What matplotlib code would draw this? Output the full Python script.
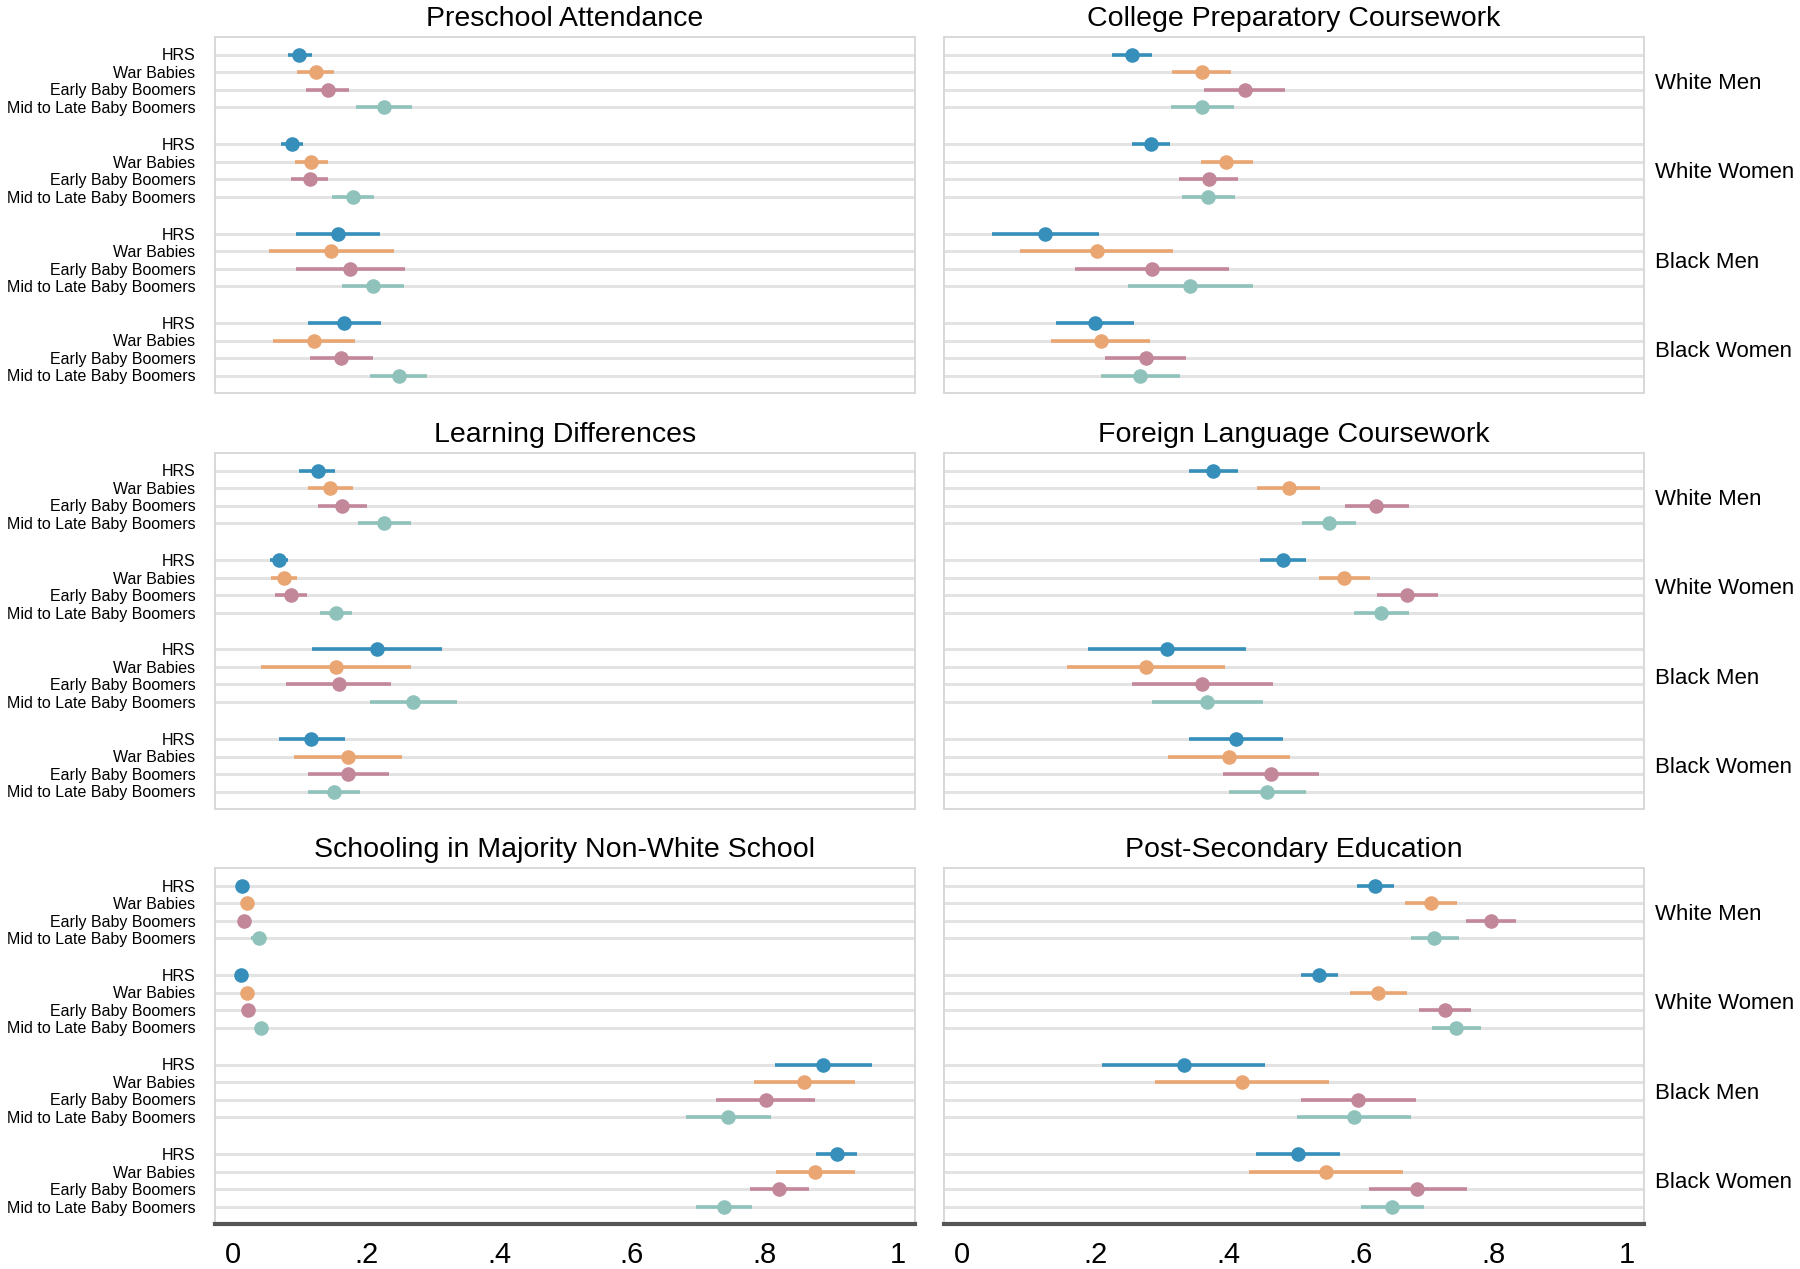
import matplotlib.pyplot as plt
import numpy as np

plt.rcParams['font.family'] = ['Liberation Sans', 'DejaVu Sans']

cohorts = ["HRS", "War Babies", "Early Baby Boomers", "Mid to Late Baby Boomers"]
groups = ["White Men", "White Women", "Black Men", "Black Women"]
colors = ["#368fba", "#e9a673", "#c3879a", "#8fc2bb"]

xticks = [0, 0.2, 0.4, 0.6, 0.8, 1]
xticklabels = ["0", ".2", ".4", ".6", ".8", "1"]

# rows = groups (WM, WW, BM, BW), columns = cohorts
preschool_est = [[0.099, 0.124, 0.142, 0.227], [0.088, 0.117, 0.115, 0.180],
                 [0.157, 0.147, 0.176, 0.210], [0.167, 0.121, 0.162, 0.250]]
preschool_lo = [[0.082, 0.096, 0.110, 0.185], [0.071, 0.093, 0.087, 0.148],
                [0.094, 0.053, 0.095, 0.163], [0.112, 0.060, 0.115, 0.206]]
preschool_hi = [[0.118, 0.151, 0.174, 0.269], [0.105, 0.142, 0.143, 0.212],
                [0.220, 0.242, 0.258, 0.257], [0.223, 0.183, 0.210, 0.292]]

college_est = [[0.255, 0.360, 0.425, 0.361], [0.284, 0.397, 0.371, 0.370],
               [0.124, 0.202, 0.285, 0.343], [0.199, 0.208, 0.276, 0.268]]
college_lo = [[0.225, 0.316, 0.363, 0.314], [0.256, 0.359, 0.326, 0.331],
              [0.045, 0.087, 0.170, 0.249], [0.141, 0.133, 0.215, 0.208]]
college_hi = [[0.286, 0.404, 0.486, 0.409], [0.313, 0.437, 0.415, 0.410],
              [0.205, 0.317, 0.401, 0.437], [0.258, 0.283, 0.336, 0.328]]

learning_est = [[0.127, 0.146, 0.164, 0.227], [0.069, 0.076, 0.087, 0.154],
                [0.216, 0.154, 0.159, 0.271], [0.117, 0.173, 0.173, 0.151]]
learning_lo = [[0.099, 0.113, 0.127, 0.187], [0.055, 0.056, 0.063, 0.130],
               [0.119, 0.042, 0.079, 0.205], [0.068, 0.091, 0.113, 0.112]]
learning_hi = [[0.153, 0.180, 0.201, 0.267], [0.083, 0.096, 0.111, 0.179],
               [0.314, 0.268, 0.238, 0.336], [0.168, 0.254, 0.234, 0.190]]

foreign_est = [[0.378, 0.491, 0.623, 0.552], [0.483, 0.575, 0.669, 0.630],
               [0.308, 0.276, 0.360, 0.369], [0.412, 0.401, 0.464, 0.459]]
foreign_lo = [[0.341, 0.444, 0.576, 0.511], [0.448, 0.537, 0.624, 0.589],
              [0.189, 0.158, 0.255, 0.285], [0.341, 0.310, 0.392, 0.401]]
foreign_hi = [[0.415, 0.539, 0.672, 0.593], [0.517, 0.614, 0.716, 0.673],
              [0.427, 0.395, 0.467, 0.453], [0.483, 0.493, 0.537, 0.517]]

nonwhite_est = [[0.013, 0.020, 0.016, 0.038], [0.012, 0.020, 0.022, 0.042],
                [0.888, 0.859, 0.801, 0.745], [0.908, 0.876, 0.822, 0.738]]
nonwhite_lo = [[0.008, 0.015, 0.011, 0.027], [0.007, 0.015, 0.017, 0.035],
               [0.815, 0.783, 0.727, 0.681], [0.877, 0.817, 0.778, 0.696]]
nonwhite_hi = [[0.018, 0.025, 0.021, 0.049], [0.017, 0.025, 0.027, 0.049],
               [0.961, 0.935, 0.875, 0.810], [0.939, 0.936, 0.866, 0.780]]

postsec_est = [[0.621, 0.705, 0.796, 0.710], [0.537, 0.626, 0.726, 0.743],
               [0.333, 0.421, 0.595, 0.589], [0.505, 0.547, 0.685, 0.647]]
postsec_lo = [[0.594, 0.666, 0.758, 0.675], [0.509, 0.583, 0.688, 0.707],
              [0.210, 0.290, 0.510, 0.504], [0.442, 0.432, 0.612, 0.600]]
postsec_hi = [[0.649, 0.745, 0.833, 0.747], [0.566, 0.670, 0.766, 0.780],
              [0.455, 0.552, 0.683, 0.675], [0.569, 0.663, 0.759, 0.695]]

panels = [
    ("Preschool Attendance", preschool_est, preschool_lo, preschool_hi),
    ("College Preparatory Coursework", college_est, college_lo, college_hi),
    ("Learning Differences", learning_est, learning_lo, learning_hi),
    ("Foreign Language Coursework", foreign_est, foreign_lo, foreign_hi),
    ("Schooling in Majority Non-White School", nonwhite_est, nonwhite_lo, nonwhite_hi),
    ("Post-Secondary Education", postsec_est, postsec_lo, postsec_hi),
]

W, H = 1800, 1269
fig = plt.figure(figsize=(W / 100, H / 100), dpi=100)

col_left = [215, 944]
panel_w = 700
row_top = [37, 453, 868]
panel_h = 356
gap = 2
group_h = (panel_h - 3 * gap) / 4
border = "#d8d8d8"

for p, (title, est, lo, hi) in enumerate(panels):
    r, c = divmod(p, 2)
    x0 = col_left[c]
    for g in range(4):
        top = row_top[r] + g * (group_h + gap)
        ax = fig.add_axes([x0 / W, 1 - (top + group_h) / H, panel_w / W, group_h / H])
        ax.set_xlim(-0.0276, 1.026)
        ax.set_ylim(4.0, -1.0)
        for k in range(4):
            ax.axhline(k, color="#e3e3e3", lw=2.2, zorder=1)
            ax.hlines(k, lo[g][k], hi[g][k], color=colors[k], lw=2.6, zorder=2)
            ax.plot(est[g][k], k, "o", color=colors[k], ms=10.5, mew=0, zorder=3)

        for s in ax.spines.values():
            s.set_color(border)
            s.set_linewidth(1.4)
        ax.spines["top"].set_visible(g == 0)
        ax.spines["bottom"].set_visible(g == 3)
        if r == 2 and g == 3:
            ax.spines["bottom"].set_color("#555555")
            ax.spines["bottom"].set_linewidth(3)
            ax.set_xticks(xticks)
            ax.set_xticklabels(xticklabels, fontsize=21)
            ax.tick_params(axis="x", length=0, pad=12)
        else:
            ax.set_xticks([])

        if c == 0:
            ax.set_yticks(range(4))
            ax.set_yticklabels(cohorts, fontsize=11.5)
            ax.tick_params(axis="y", length=0, pad=14)
        else:
            ax.set_yticks([])
            ax.text(1.0157, 0.47, groups[g], transform=ax.transAxes,
                    ha="left", va="center", fontsize=16)

    fig.text((x0 + panel_w / 2) / W, 1 - (row_top[r] - 18) / H, title,
             ha="center", va="center", fontsize=20.5)

fig.savefig("out.png", dpi=100, facecolor="white")
